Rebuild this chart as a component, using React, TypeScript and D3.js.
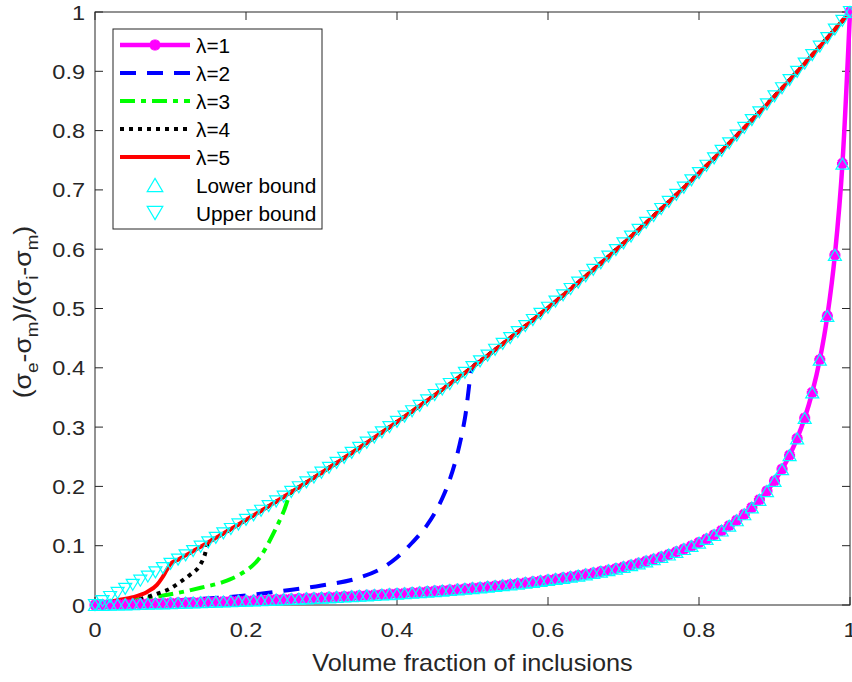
import React from 'react';
import * as d3 from 'd3';

// ---------- data ----------
const X_TICKS = [0, 0.2, 0.4, 0.6, 0.8, 1];
const X_TICK_LABELS = ['0', '0.2', '0.4', '0.6', '0.8', '1'];
const Y_TICKS = [0, 0.1, 0.2, 0.3, 0.4, 0.5, 0.6, 0.7, 0.8, 0.9, 1];
const Y_TICK_LABELS = ['0', '0.1', '0.2', '0.3', '0.4', '0.5', '0.6', '0.7', '0.8', '0.9', '1'];

// volume fraction sample points (step 0.01)
const fraction = d3.range(0, 101).map((i) => i / 100);

const upperBound = [
  0, 0.0067, 0.0135, 0.0203, 0.0272, 0.0341, 0.0410, 0.0480, 0.0551, 0.0622,
  0.0693, 0.0765, 0.0837, 0.0910, 0.0983, 0.1057, 0.1132, 0.1207, 0.1282, 0.1358,
  0.1435, 0.1512, 0.1589, 0.1668, 0.1746, 0.1826, 0.1906, 0.1986, 0.2067, 0.2149,
  0.2231, 0.2314, 0.2397, 0.2481, 0.2566, 0.2651, 0.2737, 0.2824, 0.2911, 0.2999,
  0.3088, 0.3177, 0.3267, 0.3357, 0.3449, 0.3541, 0.3634, 0.3727, 0.3821, 0.3916,
  0.4012, 0.4109, 0.4206, 0.4304, 0.4403, 0.4502, 0.4603, 0.4704, 0.4806, 0.4909,
  0.5013, 0.5117, 0.5223, 0.5329, 0.5436, 0.5544, 0.5653, 0.5763, 0.5874, 0.5986,
  0.6099, 0.6213, 0.6327, 0.6443, 0.6560, 0.6678, 0.6797, 0.6917, 0.7037, 0.7160,
  0.7283, 0.7407, 0.7532, 0.7659, 0.7786, 0.7915, 0.8045, 0.8177, 0.8309, 0.8443,
  0.8578, 0.8714, 0.8851, 0.8990, 0.9130, 0.9272, 0.9415, 0.9559, 0.9704, 0.9852, 1,
];

const lowerBound = [
  0, 0.0003, 0.0006, 0.0009, 0.0012, 0.0015, 0.0019, 0.0022, 0.0026, 0.0029,
  0.0033, 0.0036, 0.0040, 0.0044, 0.0048, 0.0052, 0.0056, 0.0060, 0.0064, 0.0069,
  0.0073, 0.0078, 0.0082, 0.0087, 0.0092, 0.0097, 0.0102, 0.0108, 0.0113, 0.0119,
  0.0124, 0.0130, 0.0137, 0.0143, 0.0149, 0.0156, 0.0163, 0.0170, 0.0177, 0.0185,
  0.0192, 0.0200, 0.0209, 0.0217, 0.0226, 0.0235, 0.0244, 0.0254, 0.0264, 0.0275,
  0.0286, 0.0297, 0.0309, 0.0321, 0.0334, 0.0347, 0.0361, 0.0375, 0.0390, 0.0406,
  0.0423, 0.0440, 0.0458, 0.0477, 0.0497, 0.0518, 0.0540, 0.0564, 0.0588, 0.0614,
  0.0642, 0.0672, 0.0703, 0.0737, 0.0772, 0.0811, 0.0852, 0.0896, 0.0944, 0.0996,
  0.1053, 0.1114, 0.1182, 0.1256, 0.1338, 0.1429, 0.1530, 0.1645, 0.1774, 0.1922,
  0.2093, 0.2292, 0.2527, 0.2810, 0.3154, 0.3585, 0.4138, 0.4874, 0.5904, 0.7444, 1,
];

// branches of the lambda curves below the upper bound (they follow the upper bound afterwards)
const lambda2X = [0, 0.05, 0.1, 0.15, 0.2, 0.25, 0.3, 0.35, 0.38, 0.4, 0.42, 0.44, 0.45, 0.46, 0.47, 0.48, 0.49, 0.5];
const lambda2Y = [0, 0.003, 0.007, 0.011, 0.016, 0.024, 0.033, 0.046, 0.062, 0.08, 0.105, 0.135, 0.155, 0.18, 0.212, 0.255, 0.315, 0.401];

const lambda3X = [0, 0.05, 0.1, 0.14, 0.17, 0.19, 0.2, 0.21, 0.22, 0.23, 0.24, 0.25, 0.26];
const lambda3Y = [0, 0.008, 0.018, 0.029, 0.039, 0.05, 0.058, 0.068, 0.083, 0.105, 0.13, 0.158, 0.1906];

const lambda4X = [0, 0.03, 0.06, 0.08, 0.1, 0.113, 0.126, 0.139, 0.145, 0.15];
const lambda4Y = [0, 0.004, 0.01, 0.018, 0.028, 0.039, 0.051, 0.067, 0.083, 0.1057];

const lambda5X = [0, 0.03, 0.05, 0.069, 0.082, 0.089, 0.095, 0.1];
const lambda5Y = [0, 0.008, 0.013, 0.022, 0.034, 0.046, 0.059, 0.0693];

const LEGEND_LABELS = ['λ=1', 'λ=2', 'λ=3', 'λ=4', 'λ=5', 'Lower bound', 'Upper bound'];

// ---------- layout ----------
const W = 852;
const H = 682;
const L = 95;
const R = 850;
const T = 12;
const B = 605;
const FONT = '"Liberation Sans", Arial, Helvetica, sans-serif';
const AX = '#262626';

const x = d3.scaleLinear().domain([0, 1]).range([L, R]);
const y = d3.scaleLinear().domain([0, 1]).range([B, T]);

type Pt = [number, number];

function withUpper(bx: number[], by: number[]): Pt[] {
  const last = bx[bx.length - 1];
  const pts: Pt[] = bx.map((v, i) => [v, by[i]] as Pt);
  fraction.forEach((f, i) => {
    if (f > last + 1e-9) pts.push([f, upperBound[i]]);
  });
  return pts;
}

const line = d3
  .line<Pt>()
  .x((d) => x(d[0]))
  .y((d) => y(d[1]))
  .curve(d3.curveMonotoneX);

const lowerPts: Pt[] = fraction.map((f, i) => [f, lowerBound[i]]);
const upperPts: Pt[] = fraction.map((f, i) => [f, upperBound[i]]);

const series = [
  { pts: lowerPts, color: '#ff00ff', width: 4.5, dash: undefined as string | undefined },
  { pts: withUpper(lambda2X, lambda2Y), color: '#0000ff', width: 4, dash: '16 11' },
  { pts: withUpper(lambda3X, lambda3Y), color: '#00ff00', width: 4, dash: '15 6 5 6' },
  { pts: withUpper(lambda4X, lambda4Y), color: '#000000', width: 4, dash: '4 5' },
  { pts: withUpper(lambda5X, lambda5Y), color: '#ff0000', width: 4, dash: undefined },
];

const TRI_W = 13;
const TRI_H = 11;
function triUp(cx: number, cy: number, s = 1) {
  const w = (TRI_W / 2) * s;
  const h = (TRI_H / 2) * s;
  return `M${cx},${cy - h}L${cx + w},${cy + h}L${cx - w},${cy + h}Z`;
}
function triDown(cx: number, cy: number, s = 1) {
  const w = (TRI_W / 2) * s;
  const h = (TRI_H / 2) * s;
  return `M${cx},${cy + h}L${cx + w},${cy - h}L${cx - w},${cy - h}Z`;
}
function star(cx: number, cy: number, r = 5) {
  const d = r * 0.72;
  return `M${cx - r},${cy}H${cx + r}M${cx},${cy - r}V${cy + r}M${cx - d},${cy - d}L${cx + d},${cy + d}M${cx - d},${cy + d}L${cx + d},${cy - d}`;
}

export default function App() {
  const legendX = 113;
  const legendY = 29;
  const legendW = 209;
  const legendH = 200;
  const rowY = (i: number) => 45 + i * 28;
  return (
    <svg
      width={W}
      height={H}
      viewBox={`0 0 ${W} ${H}`}
      style={{ position: 'absolute', left: 0, top: 0, background: '#fff' }}
      fontFamily={FONT}
    >
      <rect x={0} y={0} width={W} height={H} fill="#fff" />
      {/* axes box */}
      <rect x={L} y={T} width={R - L} height={B - T} fill="none" stroke={AX} strokeWidth={1} />
      {X_TICKS.map((t, i) => (
        <g key={'xt' + i}>
          <line x1={x(t)} x2={x(t)} y1={B} y2={B - 8} stroke={AX} />
          <line x1={x(t)} x2={x(t)} y1={T} y2={T + 8} stroke={AX} />
          <text
            transform={`translate(${x(t)}, 637) scale(1.12, 1)`}
            textAnchor="middle"
            fontSize={21}
            fill={AX}
          >
            {X_TICK_LABELS[i]}
          </text>
        </g>
      ))}
      {Y_TICKS.map((t, i) => (
        <g key={'yt' + i}>
          <line x1={L} x2={L + 8} y1={y(t)} y2={y(t)} stroke={AX} />
          <line x1={R} x2={R - 8} y1={y(t)} y2={y(t)} stroke={AX} />
          <text
            transform={`translate(85, ${y(t) + 7.5}) scale(1.12, 1)`}
            textAnchor="end"
            fontSize={21}
            fill={AX}
          >
            {Y_TICK_LABELS[i]}
          </text>
        </g>
      ))}
      <text
        transform={`translate(${(L + R) / 2}, 671) scale(1.1, 1)`}
        textAnchor="middle"
        fontSize={23}
        fill={AX}
      >
        Volume fraction of inclusions
      </text>
      <text
        transform={`translate(31, 312) rotate(-90) scale(1.11, 1)`}
        textAnchor="middle"
        fontSize={24}
        fill={AX}
      >
        (σ<tspan fontSize={17} dy={7}>e</tspan>
        <tspan dy={-7}>-σ</tspan>
        <tspan fontSize={17} dy={7}>m</tspan>
        <tspan dy={-7}>)/(σ</tspan>
        <tspan fontSize={17} dy={7}>i</tspan>
        <tspan dy={-7}>-σ</tspan>
        <tspan fontSize={17} dy={7}>m</tspan>
        <tspan dy={-7}>)</tspan>
      </text>

      {/* data lines */}
      {series.map((s, i) => (
        <path
          key={'s' + i}
          d={line(s.pts) || ''}
          fill="none"
          stroke={s.color}
          strokeWidth={s.width}
          strokeDasharray={s.dash}
          strokeLinejoin="round"
        />
      ))}
      {/* lambda=1 markers */}
      {lowerPts.map((p, i) => (
        <path key={'m' + i} d={star(x(p[0]), y(p[1]), 5.5)} stroke="#ff00ff" strokeWidth={3.5} fill="none" />
      ))}
      {/* bounds */}
      {lowerPts.map((p, i) => (
        <path key={'lb' + i} d={triUp(x(p[0]), y(p[1]))} stroke="#00ffff" strokeWidth={1.2} fill="none" />
      ))}
      {upperPts.map((p, i) => (
        <path key={'ub' + i} d={triDown(x(p[0]), y(p[1]))} stroke="#00ffff" strokeWidth={1.2} fill="none" />
      ))}

      {/* legend */}
      <rect x={legendX} y={legendY} width={legendW} height={legendH} fill="#fff" stroke={AX} strokeWidth={1} />
      {series.map((s, i) => (
        <g key={'lg' + i}>
          <line
            x1={120}
            x2={190}
            y1={rowY(i)}
            y2={rowY(i)}
            stroke={s.color}
            strokeWidth={s.width}
            strokeDasharray={s.dash}
          />
          {i === 0 && <path d={star(155, rowY(i), 5.5)} stroke="#ff00ff" strokeWidth={3.5} fill="none" />}
        </g>
      ))}
      <path d={triUp(155, rowY(5), 1.2)} stroke="#00ffff" strokeWidth={1.2} fill="none" />
      <path d={triDown(155, rowY(6), 1.2)} stroke="#00ffff" strokeWidth={1.2} fill="none" />
      {LEGEND_LABELS.map((lab, i) => (
        <text
          key={'lt' + i}
          transform={`translate(196, ${rowY(i) + 7.5}) scale(1.04, 1)`}
          fontSize={20}
          fill="#000"
        >
          {lab}
        </text>
      ))}
    </svg>
  );
}
